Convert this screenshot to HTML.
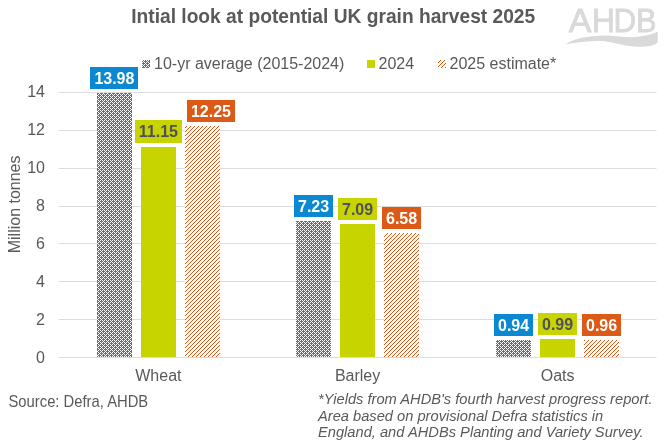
<!DOCTYPE html>
<html><head><meta charset="utf-8"><style>
html,body{margin:0;padding:0;background:#fff;width:664px;height:444px;overflow:hidden}
svg{position:absolute;left:0;top:0;font-family:'Liberation Sans',sans-serif;will-change:transform}
</style></head><body>
<svg width="664" height="444" viewBox="0 0 664 444">
<defs>
<pattern id="pb" x="0" y="0" width="4" height="4" patternUnits="userSpaceOnUse">
<rect width="4" height="4" fill="#0A89D2"/>
<rect x="0" y="0" width="1" height="1" fill="#fff"/>
<rect x="2" y="0" width="1" height="1" fill="#fff"/>
<rect x="0" y="2" width="1" height="1" fill="#fff"/>
<rect x="2" y="2" width="1" height="1" fill="#fff"/>
<rect x="3" y="1" width="1" height="1" fill="#fff"/>
<rect x="1" y="3" width="1" height="1" fill="#fff"/>
</pattern>
<pattern id="po" x="0" y="0" width="4" height="4" patternUnits="userSpaceOnUse">
<rect width="4" height="4" fill="#fff"/>
<rect x="0" y="0" width="1" height="1" fill="#DD5A16"/>
<rect x="3" y="1" width="1" height="1" fill="#DD5A16"/>
<rect x="2" y="2" width="1" height="1" fill="#DD5A16"/>
<rect x="1" y="3" width="1" height="1" fill="#DD5A16"/>
</pattern>
</defs>
<rect width="664" height="444" fill="#fff"/>
<text transform="translate(333.2 22.6) scale(1 1.06)" text-anchor="middle" font-size="19.2" font-weight="bold" fill="#595959">Intial look at potential UK grain harvest 2025</text>
<g fill="#D9D9D9">
<g font-size="33" stroke="#D9D9D9" stroke-width="0.9">
<text transform="translate(568.80 31.6) scale(1.027 1)">A</text>
<text transform="translate(592.08 31.6) scale(0.960 1)">H</text>
<text transform="translate(613.40 31.6) scale(0.948 1)">D</text>
<text transform="translate(636.04 31.6) scale(0.932 1)">B</text>
</g>
<path d="M565.7 44.2 C572 40 580 36.8 600 35.7 C612 35.2 618 37.2 630 37.2 C640 37 650 35 657.7 31.7 L657.7 42.3 C655 45.5 650 46.6 638 46.8 C628 46.8 615 43 604 41.1 C591 40.6 577 42.2 565.7 44.2 Z"/>
</g>
<rect x="142" y="60" width="8" height="8" fill="url(#pb)"/>
<text x="154" y="68.7" font-size="16" fill="#595959">10-yr average (2015-2024)</text>
<rect x="367" y="60" width="8" height="8" fill="#C7D400"/>
<text x="378.5" y="68.7" font-size="16" fill="#595959">2024</text>
<rect x="438" y="60" width="8" height="8" fill="url(#po)"/>
<text x="449.5" y="68.7" font-size="16" fill="#595959">2025 estimate*</text>
<text transform="translate(20 204.4) rotate(-90)" text-anchor="middle" font-size="16" fill="#595959">Million tonnes</text>
<line x1="58.5" x2="656.5" y1="357.5" y2="357.5" stroke="#DDDDDD" stroke-width="1"/>
<line x1="58.5" x2="656.5" y1="319.5" y2="319.5" stroke="#DDDDDD" stroke-width="1"/>
<line x1="58.5" x2="656.5" y1="281.5" y2="281.5" stroke="#DDDDDD" stroke-width="1"/>
<line x1="58.5" x2="656.5" y1="243.5" y2="243.5" stroke="#DDDDDD" stroke-width="1"/>
<line x1="58.5" x2="656.5" y1="206.5" y2="206.5" stroke="#DDDDDD" stroke-width="1"/>
<line x1="58.5" x2="656.5" y1="168.5" y2="168.5" stroke="#DDDDDD" stroke-width="1"/>
<line x1="58.5" x2="656.5" y1="130.5" y2="130.5" stroke="#DDDDDD" stroke-width="1"/>
<line x1="58.5" x2="656.5" y1="92.5" y2="92.5" stroke="#DDDDDD" stroke-width="1"/>
<text x="45" y="362.8" text-anchor="end" font-size="16" fill="#595959">0</text>
<text x="45" y="324.9" text-anchor="end" font-size="16" fill="#595959">2</text>
<text x="45" y="287.1" text-anchor="end" font-size="16" fill="#595959">4</text>
<text x="45" y="249.2" text-anchor="end" font-size="16" fill="#595959">6</text>
<text x="45" y="211.4" text-anchor="end" font-size="16" fill="#595959">8</text>
<text x="45" y="172.7" text-anchor="end" font-size="16" fill="#595959">10</text>
<text x="45" y="134.9" text-anchor="end" font-size="16" fill="#595959">12</text>
<text x="45" y="97.0" text-anchor="end" font-size="16" fill="#595959">14</text>
<rect x="97" y="93" width="35" height="264" fill="url(#pb)"/>
<rect x="90" y="67" width="48" height="22" fill="#0A89D2"/>
<text x="114.4" y="84.0" text-anchor="middle" font-size="16" font-weight="bold" fill="#FFFFFF">13.98</text>
<rect x="141" y="147" width="35" height="210" fill="#C7D400"/>
<rect x="135" y="120" width="47" height="23" fill="#C7D400"/>
<text x="158.4" y="137.0" text-anchor="middle" font-size="16" font-weight="bold" fill="#50505C">11.15</text>
<rect x="185" y="126" width="35" height="231" fill="url(#po)"/>
<rect x="187" y="100" width="48" height="22" fill="#DD5A16"/>
<text x="211.0" y="117.0" text-anchor="middle" font-size="16" font-weight="bold" fill="#FFFFFF">12.25</text>
<rect x="296" y="221" width="35" height="136" fill="url(#pb)"/>
<rect x="294" y="195" width="39" height="22" fill="#0A89D2"/>
<text x="313.6" y="212.0" text-anchor="middle" font-size="16" font-weight="bold" fill="#FFFFFF">7.23</text>
<rect x="340" y="224" width="35" height="133" fill="#C7D400"/>
<rect x="338" y="198" width="39" height="22" fill="#C7D400"/>
<text x="357.6" y="215.0" text-anchor="middle" font-size="16" font-weight="bold" fill="#50505C">7.09</text>
<rect x="384" y="233" width="35" height="124" fill="url(#po)"/>
<rect x="382" y="207" width="39" height="22" fill="#DD5A16"/>
<text x="401.6" y="224.0" text-anchor="middle" font-size="16" font-weight="bold" fill="#FFFFFF">6.58</text>
<rect x="496" y="340" width="35" height="17" fill="url(#pb)"/>
<rect x="494" y="314" width="39" height="22" fill="#0A89D2"/>
<text x="513.6" y="331.0" text-anchor="middle" font-size="16" font-weight="bold" fill="#FFFFFF">0.94</text>
<rect x="540" y="339" width="35" height="18" fill="#C7D400"/>
<rect x="538" y="313" width="39" height="22" fill="#C7D400"/>
<text x="557.6" y="330.0" text-anchor="middle" font-size="16" font-weight="bold" fill="#50505C">0.99</text>
<rect x="584" y="340" width="35" height="17" fill="url(#po)"/>
<rect x="582" y="314" width="39" height="22" fill="#DD5A16"/>
<text x="601.6" y="331.0" text-anchor="middle" font-size="16" font-weight="bold" fill="#FFFFFF">0.96</text>
<text x="158.4" y="381" text-anchor="middle" font-size="16" fill="#595959">Wheat</text>
<text x="357.6" y="381" text-anchor="middle" font-size="16" fill="#595959">Barley</text>
<text x="557.6" y="381" text-anchor="middle" font-size="16" fill="#595959">Oats</text>
<text transform="translate(8.5 407.3) scale(1 1.08)" font-size="14.8" fill="#595959">Source: Defra, AHDB</text>
<g font-size="14.67" font-style="italic" fill="#595959">
<text transform="translate(318 403.8) scale(1 1.06)">*Yields from AHDB's fourth harvest progress report.</text>
<text transform="translate(318 420.5) scale(1 1.06)">Area based on provisional Defra statistics in</text>
<text transform="translate(318 436.8) scale(1 1.06)">England, and AHDBs Planting and Variety Survey.</text>
</g>
</svg>
</body></html>
